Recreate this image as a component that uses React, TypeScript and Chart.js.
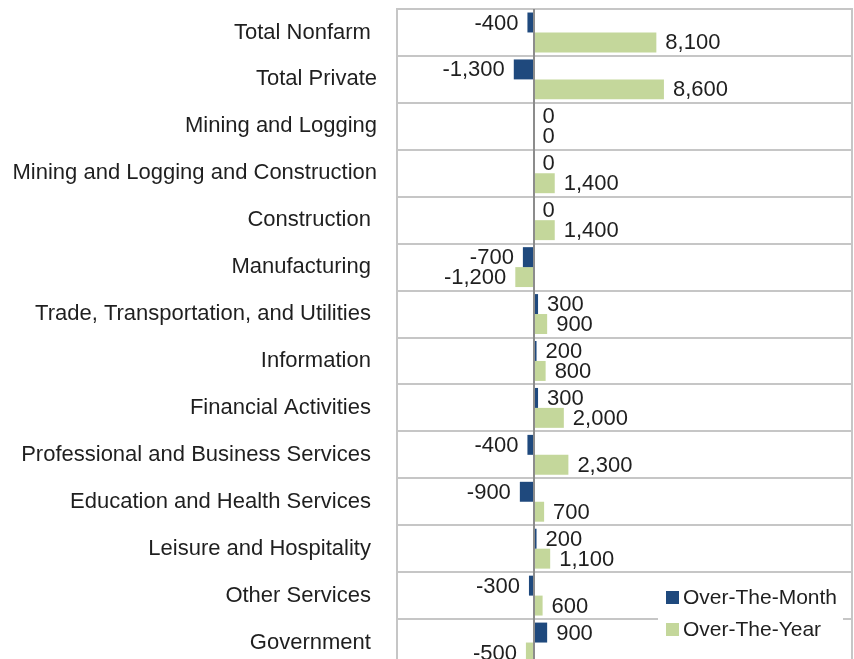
import React, { useEffect, useRef } from 'react';
import { Chart, registerables } from 'chart.js';

Chart.register(...registerables);

const categories = [
  'Total Nonfarm ',
  'Total Private',
  'Mining and Logging',
  'Mining and Logging and Construction',
  'Construction ',
  'Manufacturing ',
  'Trade, Transportation, and Utilities ',
  'Information ',
  'Financial Activities ',
  'Professional and Business Services ',
  'Education and Health Services ',
  'Leisure and Hospitality ',
  'Other Services ',
  'Government ',
];

const overTheMonth = [-400, -1300, 0, 0, 0, -700, 300, 200, 300, -400, -900, 200, -300, 900];
const overTheYear = [8100, 8600, 0, 1400, 1400, -1200, 900, 800, 2000, 2300, 700, 1100, 600, -500];

const seriesNames = ['Over-The-Month', 'Over-The-Year'];
const seriesColors = ['#1f497d', '#c4d79b'];

const xMin = -9000;
const xMax = 21000;

const FONT = '"Liberation Sans", Arial, sans-serif';
const FONT_SIZE = 22;
const TEXT_COLOR = '#1f1f1f';
const GRID_COLOR = '#c6c6c6';

export default function App() {
  const ref = useRef<HTMLCanvasElement>(null);

  useEffect(() => {
    if (!ref.current) return;

    const decorPlugin = {
      id: 'decor',
      afterDatasetsDraw(chart: any) {
        const ctx = chart.ctx as CanvasRenderingContext2D;
        const area = chart.chartArea;
        const xs = chart.scales.x;
        ctx.save();

        // zero line
        const zx = Math.round(xs.getPixelForValue(0));
        ctx.strokeStyle = '#8c8c8c';
        ctx.lineWidth = 2;
        ctx.beginPath();
        ctx.moveTo(zx, area.top);
        ctx.lineTo(zx, area.bottom);
        ctx.stroke();

        // value labels
        ctx.font = `${FONT_SIZE}px ${FONT}`;
        ctx.fillStyle = TEXT_COLOR;
        ctx.textBaseline = 'middle';
        chart.data.datasets.forEach((ds: any, di: number) => {
          const meta = chart.getDatasetMeta(di);
          meta.data.forEach((bar: any, i: number) => {
            const v = ds.data[i] as number;
            const text = v.toLocaleString('en-US');
            if (v < 0) {
              ctx.textAlign = 'right';
              ctx.fillText(text, bar.x - 9, bar.y + 1);
            } else {
              ctx.textAlign = 'left';
              ctx.fillText(text, bar.x + 9, bar.y + 1);
            }
          });
        });

        // legend
        const lx = 658;
        const lw = 185;
        const ly = 576;
        ctx.fillStyle = '#ffffff';
        ctx.fillRect(lx, ly, lw, chart.height - ly);
        ctx.font = `21px ${FONT}`;
        chart.data.datasets.forEach((ds: any, di: number) => {
          const cy = 597 + di * 32;
          ctx.fillStyle = ds.backgroundColor;
          ctx.fillRect(666, cy - 6, 13, 13);
          ctx.fillStyle = TEXT_COLOR;
          ctx.textAlign = 'left';
          ctx.fillText(ds.label, 683, cy + 1);
        });

        // right border
        ctx.strokeStyle = GRID_COLOR;
        ctx.lineWidth = 2;
        ctx.beginPath();
        ctx.moveTo(area.right, area.top - 1);
        ctx.lineTo(area.right, area.bottom);
        ctx.stroke();
        ctx.restore();
      },
    };

    const chart = new Chart(ref.current, {
      type: 'bar',
      data: {
        labels: categories,
        datasets: [
          {
            label: seriesNames[0],
            data: overTheMonth,
            backgroundColor: seriesColors[0],
            borderWidth: 0,
            categoryPercentage: 0.85,
            barPercentage: 1,
          },
          {
            label: seriesNames[1],
            data: overTheYear,
            backgroundColor: seriesColors[1],
            borderWidth: 0,
            categoryPercentage: 0.85,
            barPercentage: 1,
          },
        ],
      },
      options: {
        indexAxis: 'y',
        responsive: false,
        animation: false,
        layout: { padding: { left: 0, right: 28, top: 9, bottom: 14 } },
        plugins: {
          legend: { display: false },
          tooltip: { enabled: false },
        },
        scales: {
          x: {
            display: false,
            min: xMin,
            max: xMax,
          },
          y: {
            type: 'category',
            offset: true,
            grid: {
              offset: true,
              color: GRID_COLOR,
              lineWidth: 2,
              drawTicks: false,
            },
            border: { display: true, color: GRID_COLOR, width: 2 },
            ticks: {
              padding: 20,
              color: TEXT_COLOR,
              font: { family: FONT, size: FONT_SIZE },
            },
            afterFit(scale: any) {
              scale.width = 397;
              scale.paddingTop = 0;
              scale.paddingBottom = 0;
            },
          },
        },
      },
      plugins: [decorPlugin],
    } as any);

    return () => chart.destroy();
  }, []);

  return (
    <div
      style={{
        position: 'fixed',
        left: 0,
        top: 0,
        width: 854,
        height: 659,
        overflow: 'hidden',
        background: '#ffffff',
      }}
    >
      <canvas ref={ref} width={880} height={680} style={{ display: 'block' }} />
    </div>
  );
}
